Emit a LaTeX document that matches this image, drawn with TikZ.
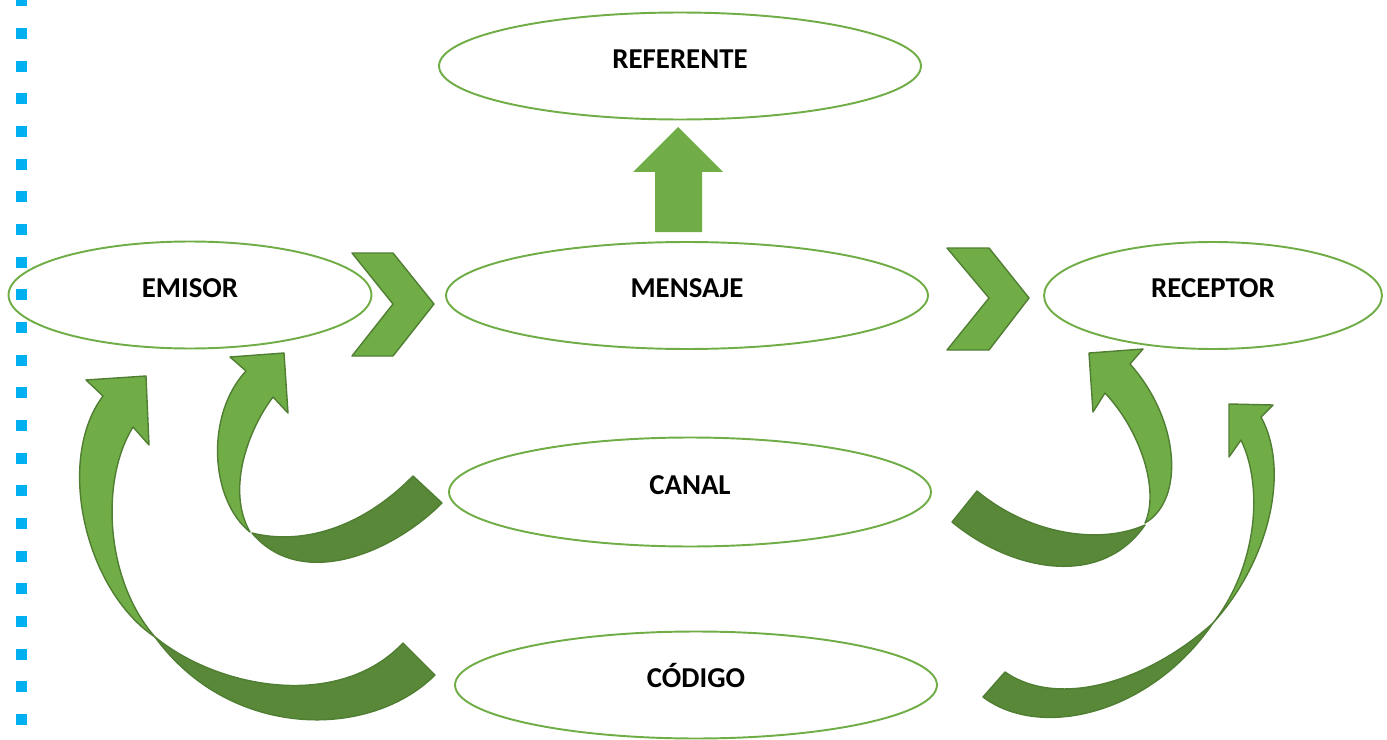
\documentclass[tikz,border=0pt]{standalone}
\usepackage{fontspec}
\setmainfont{Carlito}
\usetikzlibrary{shapes.geometric}
\definecolor{verde}{RGB}{112,173,71}
\definecolor{verdeosc}{RGB}{88,136,56}
\definecolor{borde}{RGB}{80,126,50}
\definecolor{puntos}{RGB}{0,176,240}
\begin{document}
\begin{tikzpicture}[x=0.02cm,y=-0.02cm]
\tikzstyle{every node}=[ellipse,draw=verde,line width=1.1pt,font=\fontsize{16.4}{19}\selectfont\bfseries,text height=11.5pt,text depth=9pt,minimum width=9.64cm,minimum height=2.14cm]
\tikzstyle{flecha}=[fill=verde,draw=borde,line width=0.8pt,line join=round]
\tikzstyle{banda}=[fill=verdeosc,draw=borde,line width=0.8pt,line join=round]
\useasboundingbox (0,0) rectangle (1387,740);
\foreach \k in {0,...,22} \fill[puntos] (15.5,{32.65*\k-4.5}) rectangle ++(11,11);
\node (referente) at (680,66) {REFERENTE};
\node (emisor) [minimum width=7.26cm] at (190,295) {EMISOR};
\node (mensaje) at (687,295.5) {MENSAJE};
\node (receptor) [minimum width=6.76cm] at (1213,295.5) {RECEPTOR};
\node (canal) [minimum height=2.18cm] at (690,492) {CANAL};
\node (codigo) at (696,685) {CÓDIGO};
% flecha hacia el referente
\fill[verde] (655,232) -- (655,172) -- (633,172) -- (678,127) -- (723,172) -- (702,172) -- (702,232) -- cycle;
% chevrons
\draw[flecha] (352,253) -- (393,253) -- (434,304) -- (393,356) -- (352,356) -- (393,304) -- cycle;
\draw[flecha] (947,248) -- (989,248) -- (1029,298) -- (989,350) -- (947,350) -- (989,298) -- cycle;
% canal -> emisor
\draw[banda] (252,533) .. controls (300,545) and (360,530) .. (413,476) -- (442,503) .. controls (390,555) and (300,590) .. (252,533) -- cycle;
\draw[flecha] (246,371) -- (230,357) -- (284,353) -- (288,413) -- (273,397) .. controls (248,430) and (226,490) .. (250,532) .. controls (210,500) and (205,415) .. (246,371) -- cycle;
% codigo -> emisor
\draw[banda] (155,637) .. controls (220,690) and (340,710) .. (403,643) -- (435,675) .. controls (370,740) and (230,740) .. (155,637) -- cycle;
\draw[flecha] (103,396) -- (86,380) -- (146,376) -- (149,445) -- (133,427) .. controls (100,480) and (105,580) .. (155,637) .. controls (85,590) and (55,460) .. (103,396) -- cycle;
% canal -> receptor
\draw[banda] (1145,525) .. controls (1100,545) and (1030,535) .. (977,491) -- (952,522) .. controls (1010,570) and (1100,590) .. (1145,525) -- cycle;
\draw[flecha] (1130,364) -- (1143,349) -- (1089,353) -- (1093,412) -- (1105,393) .. controls (1140,430) and (1160,490) .. (1145,523) .. controls (1185,500) and (1180,420) .. (1130,364) -- cycle;
% codigo -> receptor
\draw[banda] (1213,623) .. controls (1150,680) and (1060,710) .. (1005,672) -- (983,697) .. controls (1040,740) and (1150,715) .. (1213,623) -- cycle;
\draw[flecha] (1261,417) -- (1273,405) -- (1229,404) -- (1229,457) -- (1241,440) .. controls (1265,490) and (1255,570) .. (1213,623) .. controls (1270,560) and (1290,470) .. (1261,417) -- cycle;
\end{tikzpicture}
\end{document}
